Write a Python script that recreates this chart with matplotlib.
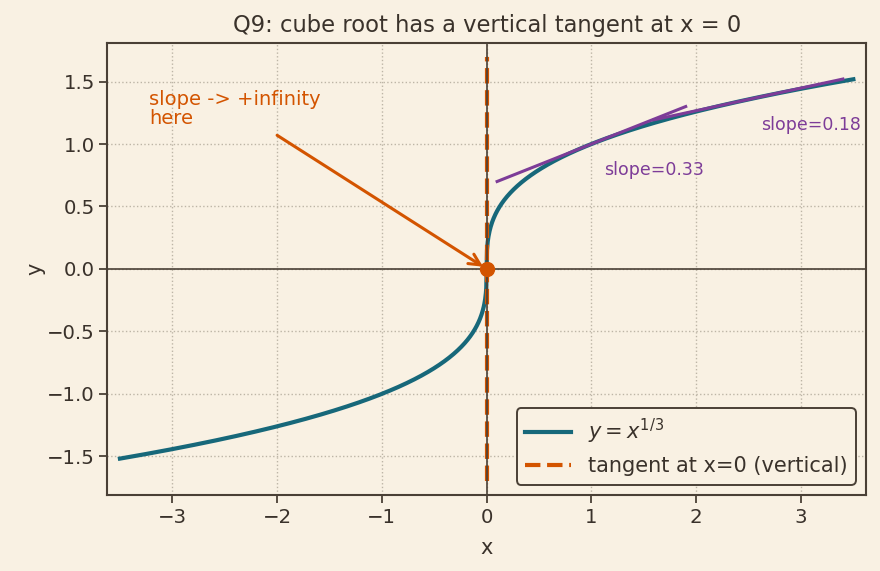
import matplotlib
matplotlib.use("Agg")
import matplotlib.pyplot as plt
import numpy as np

# curve range and tangent points
x_range = [-3.5, 3.5]
tangent_x0 = [1.0, 2.5]
tangent_half = 0.9
tangent_labels = ["slope=0.33", "slope=0.18"]
vert_range = [-1.7, 1.7]

bg = "#f9f1e3"
ink = "#4a4036"
teal = "#17687a"
orange = "#d35400"
purple = "#7d3c98"

plt.rcParams["font.family"] = "DejaVu Sans"
plt.rcParams["text.color"] = "#3a322b"
plt.rcParams["axes.labelcolor"] = "#3a322b"
plt.rcParams["xtick.color"] = ink
plt.rcParams["ytick.color"] = ink
plt.rcParams["xtick.labelcolor"] = "#3a322b"
plt.rcParams["ytick.labelcolor"] = "#3a322b"

fig, ax = plt.subplots(figsize=(8.8, 5.71), dpi=100)
fig.patch.set_facecolor(bg)
ax.set_facecolor(bg)

x = np.linspace(x_range[0], x_range[1], 2001)
y = np.cbrt(x)

ax.axhline(0, color=ink, lw=1.2, zorder=1)
ax.axvline(0, color=ink, lw=1.2, zorder=4.5)

ax.plot(x, y, color=teal, lw=3, label=r"$y = x^{1/3}$", zorder=3)
ax.plot([0, 0], vert_range, color=orange, lw=3, ls="--",
        label="tangent at x=0 (vertical)", zorder=4)

for x0, lab in zip(tangent_x0, tangent_labels):
    y0 = np.cbrt(x0)
    m = (1 / 3) * x0 ** (-2 / 3)
    xs = np.array([x0 - tangent_half, x0 + tangent_half])
    ax.plot(xs, y0 + m * (xs - x0), color=purple, lw=2.2, zorder=3.5)
    ax.text(x0 + 0.12, y0 - 0.28, lab, color=purple, fontsize=12.5, va="bottom")

ax.plot(0, 0, "o", color=orange, ms=10, zorder=5)
ax.annotate("", xy=(0, 0), xytext=(-2.0, 1.07),
            arrowprops=dict(arrowstyle="->", color=orange, lw=2.2,
                            mutation_scale=20, shrinkA=0, shrinkB=3))
ax.text(-3.22, 1.13, "slope -> +infinity\nhere", color=orange, fontsize=14,
        va="bottom", ha="left", linespacing=1.0)

ax.set_xlim(-3.62, 3.62)
ax.set_ylim(-1.81, 1.81)
ax.set_yticks([-1.5, -1.0, -0.5, 0.0, 0.5, 1.0, 1.5])
ax.grid(True, ls=":", color="#bdb5a6", lw=1)
ax.set_axisbelow(True)
for s in ax.spines.values():
    s.set_color(ink)
    s.set_linewidth(1.5)
ax.tick_params(labelsize=14.2, length=5.5, width=1.3)

ax.set_title("Q9: cube root has a vertical tangent at x = 0", fontsize=16.3, pad=8)
ax.set_xlabel("x", fontsize=15, labelpad=8)
ax.set_ylabel("y", fontsize=15, labelpad=1)

leg = ax.legend(loc="lower right", fontsize=15, facecolor=bg, edgecolor=ink,
                framealpha=1, handlelength=2.2)
leg.get_frame().set_linewidth(1.4)

fig.subplots_adjust(left=0.122, right=0.984, top=0.925, bottom=0.133)
fig.savefig("out.png", dpi=100, facecolor=bg)
